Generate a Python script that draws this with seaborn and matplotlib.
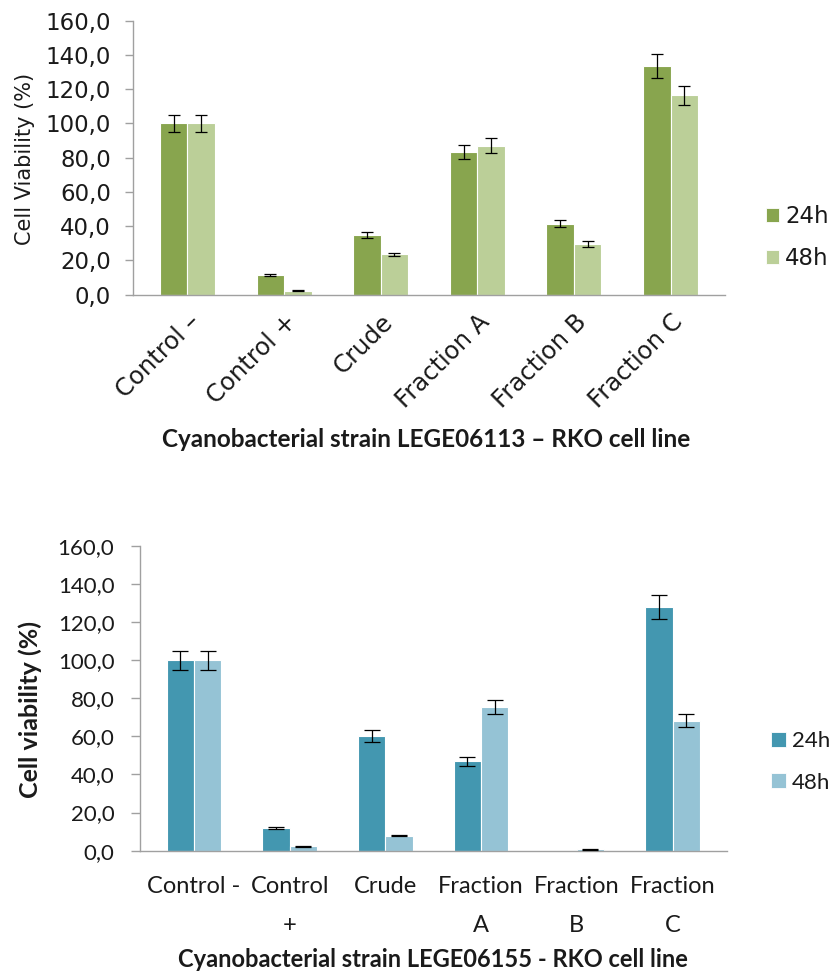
import matplotlib
matplotlib.use("Agg")
import matplotlib.pyplot as plt
from matplotlib.patches import Patch
from matplotlib.ticker import FixedLocator, FuncFormatter
import pandas as pd
import seaborn as sns

# Treatments and exposure times
treat_top = ["Control –", "Control +", "Crude", "Fraction A", "Fraction B", "Fraction C"]
treat_bottom = ["Control -", "Control\n+", "Crude", "Fraction\nA", "Fraction\nB", "Fraction\nC"]
times = ["24h", "48h"]

# LEGE06113 on RKO cells: mean viability (%) and error
top_24 = [100.0, 11.5, 34.8, 83.2, 41.3, 133.5]
top_48 = [100.0, 2.2, 23.4, 87.0, 29.6, 116.4]
top_err_24 = [5.0, 0.5, 2.0, 4.2, 2.0, 6.9]
top_err_48 = [5.0, 0.3, 1.0, 4.3, 1.7, 5.6]

# LEGE06155 on RKO cells: mean viability (%) and error
bot_24 = [100.0, 11.8, 60.2, 46.8, 0.0, 127.8]
bot_48 = [100.0, 2.4, 7.9, 75.5, 0.8, 68.2]
bot_err_24 = [5.0, 0.6, 3.0, 2.5, 0.0, 6.4]
bot_err_48 = [5.0, 0.3, 0.3, 3.7, 0.2, 3.4]

y_ticks = [0, 20, 40, 60, 80, 100, 120, 140, 160]

green = ["#88A54E", "#BBCF98"]
teal = ["#4397B0", "#95C3D5"]

sns.set_style("white")
plt.rcParams["font.family"] = ["DejaVu Sans"]

fig = plt.figure(figsize=(8.32, 9.74), dpi=100)
ax_top = fig.add_axes([0.1599, 0.6976, 0.7115, 0.2811])
ax_bot = fig.add_axes([0.1683, 0.1266, 0.7049, 0.3131])

SPINE = "#A0A0A0"
TEXT = "#1a1a1a"
comma_fmt = FuncFormatter(lambda v, _: f"{v:.1f}".replace(".", ","))


def draw(ax, cats, v24, v48, e24, e48, colors, capsize):
    df = pd.DataFrame({
        "treatment": cats * 2,
        "time": [times[0]] * len(cats) + [times[1]] * len(cats),
        "viability": v24 + v48,
    })
    sns.barplot(data=df, x="treatment", y="viability", hue="time",
                order=cats, hue_order=times, palette=colors, saturation=1,
                width=0.57, errorbar=None, edgecolor="white", linewidth=0.8,
                legend=False, ax=ax)
    for cont, err in zip(ax.containers, [e24, e48]):
        xs, hs, es = [], [], []
        for p, e in zip(cont.patches, err):
            if e > 0:
                xs.append(p.get_x() + p.get_width() / 2)
                hs.append(p.get_height())
                es.append(e)
        ax.errorbar(xs, hs, yerr=es, fmt="none", ecolor="black",
                    elinewidth=0.9, capsize=capsize, capthick=0.9, zorder=5)
    ax.set_ylim(0, 160)
    ax.yaxis.set_major_locator(FixedLocator(y_ticks))
    ax.yaxis.set_major_formatter(comma_fmt)
    for side in ("top", "right"):
        ax.spines[side].set_visible(False)
    for side in ("left", "bottom"):
        ax.spines[side].set_color(SPINE)
        ax.spines[side].set_linewidth(1.0)
    ax.tick_params(axis="x", length=0, labelcolor=TEXT)


# Upper panel
draw(ax_top, treat_top, top_24, top_48, top_err_24, top_err_48, green, 4.5)
ax_top.tick_params(axis="y", direction="out", length=6, width=1.0, color=SPINE,
                   left=True, labelcolor=TEXT, labelsize=16.5, pad=10)
ax_top.tick_params(axis="x", labelsize=17.5, pad=11)
for lbl in ax_top.get_xticklabels():
    lbl.set_rotation(45)
    lbl.set_ha("right")
    lbl.set_va("top")
    lbl.set_rotation_mode("anchor")
ax_top.set_ylabel("Cell Viability (%)", fontsize=15, color=TEXT)
ax_top.yaxis.set_label_coords(-0.1824, 0.495)
ax_top.yaxis.label.set_va("center")
ax_top.set_xlabel("Cyanobacterial strain LEGE06113 – RKO cell line",
                  fontsize=17.5, fontweight="bold", family=["Lato"], color=TEXT)
ax_top.xaxis.set_label_coords(0.4949, -0.531)
ax_top.xaxis.label.set_va("center")
fig.legend(handles=[Patch(facecolor=c, edgecolor="white", linewidth=0.6, label=t)
                    for c, t in zip(green, times)],
           loc="center left", bbox_to_anchor=(0.9207, 0.7562), frameon=False,
           fontsize=16.5, handlelength=0.57, handleheight=0.57,
           handletextpad=0.26, labelspacing=0.85, borderpad=0, borderaxespad=0,
           labelcolor=TEXT)

# Lower panel
draw(ax_bot, treat_bottom, bot_24, bot_48, bot_err_24, bot_err_48, teal, 6)
ax_bot.tick_params(axis="y", direction="out", length=6.5, width=1.0, color=SPINE,
                   left=True, labelcolor=TEXT, labelsize=16, pad=12)
ax_bot.tick_params(axis="x", labelsize=17, pad=18.5)
for lbl in ax_bot.get_yticklabels() + ax_bot.get_xticklabels():
    lbl.set_family(["Lato"])
for lbl in ax_bot.get_xticklabels():
    lbl.set_linespacing(2.05)
ax_bot.set_ylabel("Cell viability (%)", fontsize=18, fontweight="bold",
                  family=["Lato"], color=TEXT)
ax_bot.yaxis.set_label_coords(-0.1876, 0.463)
ax_bot.yaxis.label.set_va("center")
ax_bot.set_xlabel("Cyanobacterial strain LEGE06155 - RKO cell line",
                  fontsize=17, fontweight="bold", family=["Lato"], color=TEXT)
ax_bot.xaxis.set_label_coords(0.4996, -0.3584)
ax_bot.xaxis.label.set_va("center")
fig.legend(handles=[Patch(facecolor=c, edgecolor="white", linewidth=0.6, label=t)
                    for c, t in zip(teal, times)],
           loc="center left", bbox_to_anchor=(0.9267, 0.2177), frameon=False,
           prop={"family": ["Lato"], "size": 16}, handlelength=0.68,
           handleheight=0.68, handletextpad=0.27, labelspacing=0.96, borderpad=0,
           borderaxespad=0, labelcolor=TEXT)

fig.savefig("out.png", dpi=100, facecolor="white")
